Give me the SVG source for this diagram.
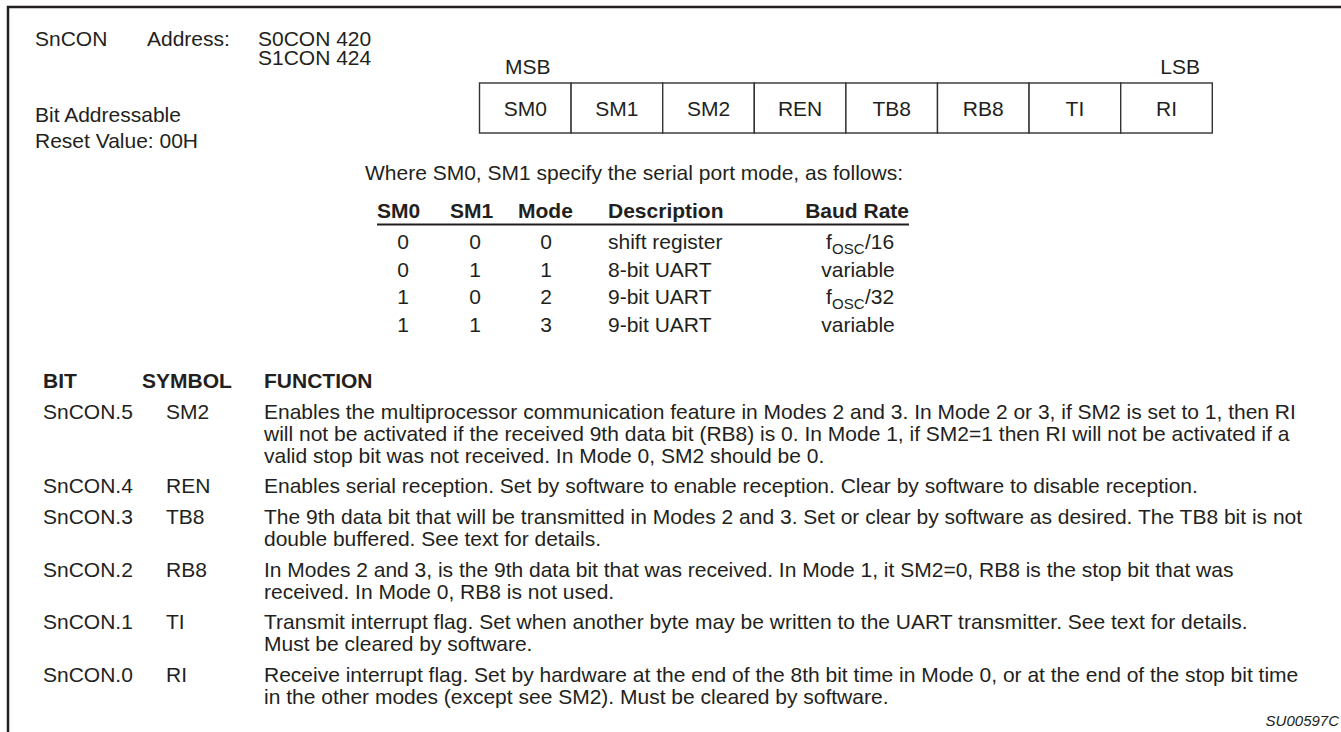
<svg xmlns="http://www.w3.org/2000/svg" width="1341" height="732" viewBox="0 0 1341 732">
<style>
text{font-family:"Liberation Sans",Arial,sans-serif;font-size:21px;fill:#231f20}
.b{font-weight:bold}
.m{text-anchor:middle}
.e{text-anchor:end}
.sub{font-size:15px}
.cell{fill:#fff;stroke:#333;stroke-width:1.4}
.frame{stroke:#231f20;stroke-width:2.5;fill:none}
</style>
<rect width="1341" height="732" fill="#fff"/>
<g id="frame">
<path class="frame" d="M8,732 V7 H1341"/>
</g>
<g id="header">
<text x="35" y="46">SnCON</text>
<text x="147" y="46">Address:</text>
<text x="258" y="46">S0CON 420</text>
<text x="258" y="65">S1CON 424</text>
<text x="35" y="122">Bit Addressable</text>
<text x="35" y="148">Reset Value: 00H</text>
</g>
<g id="register">
<text x="505" y="74">MSB</text>
<text x="1200" y="74" class="e">LSB</text>
<g id="cell-SM0"><rect class="cell" x="479.5" y="83" width="91.6" height="50"/><text x="525.3" y="116" class="m">SM0</text></g>
<g id="cell-SM1"><rect class="cell" x="571.1" y="83" width="91.6" height="50"/><text x="616.9" y="116" class="m">SM1</text></g>
<g id="cell-SM2"><rect class="cell" x="662.7" y="83" width="91.6" height="50"/><text x="708.5" y="116" class="m">SM2</text></g>
<g id="cell-REN"><rect class="cell" x="754.3" y="83" width="91.6" height="50"/><text x="800.1" y="116" class="m">REN</text></g>
<g id="cell-TB8"><rect class="cell" x="845.9" y="83" width="91.6" height="50"/><text x="891.7" y="116" class="m">TB8</text></g>
<g id="cell-RB8"><rect class="cell" x="937.5" y="83" width="91.6" height="50"/><text x="983.3" y="116" class="m">RB8</text></g>
<g id="cell-TI"><rect class="cell" x="1029.1" y="83" width="91.6" height="50"/><text x="1074.9" y="116" class="m">TI</text></g>
<g id="cell-RI"><rect class="cell" x="1120.7" y="83" width="91.6" height="50"/><text x="1166.5" y="116" class="m">RI</text></g>
</g>
<g id="mode-table">
<text x="365" y="180">Where SM0, SM1 specify the serial port mode, as follows:</text>
<text x="377" y="218" class="b">SM0</text>
<text x="450" y="218" class="b">SM1</text>
<text x="518" y="218" class="b">Mode</text>
<text x="608" y="218" class="b">Description</text>
<text x="909" y="218" class="b e">Baud Rate</text>
<line x1="377" y1="224.5" x2="909" y2="224.5" stroke="#231f20" stroke-width="2"/>
<text x="403" y="249" class="m">0</text><text x="475" y="249" class="m">0</text><text x="546" y="249" class="m">0</text><text x="608" y="249">shift register</text>
<text x="826" y="249">f</text><text x="832" y="254" class="sub">OSC</text><text x="865" y="249">/16</text>
<text x="403" y="276.5" class="m">0</text><text x="475" y="276.5" class="m">1</text><text x="546" y="276.5" class="m">1</text><text x="608" y="276.5">8-bit UART</text><text x="858" y="276.5" class="m">variable</text>
<text x="403" y="304" class="m">1</text><text x="475" y="304" class="m">0</text><text x="546" y="304" class="m">2</text><text x="608" y="304">9-bit UART</text>
<text x="826" y="304">f</text><text x="832" y="309" class="sub">OSC</text><text x="865" y="304">/32</text>
<text x="403" y="331.5" class="m">1</text><text x="475" y="331.5" class="m">1</text><text x="546" y="331.5" class="m">3</text><text x="608" y="331.5">9-bit UART</text><text x="858" y="331.5" class="m">variable</text>
</g>
<g id="bit-table">
<text x="43" y="388" class="b">BIT</text>
<text x="142" y="388" class="b">SYMBOL</text>
<text x="264" y="388" class="b">FUNCTION</text>
<text x="43" y="418.7">SnCON.5</text><text x="166" y="418.7">SM2</text>
<text x="264" y="418.7">Enables the multiprocessor communication feature in Modes 2 and 3. In Mode 2 or 3, if SM2 is set to 1, then RI</text>
<text x="264" y="440.7">will not be activated if the received 9th data bit (RB8) is 0. In Mode 1, if SM2=1 then RI will not be activated if a</text>
<text x="264" y="462.7">valid stop bit was not received. In Mode 0, SM2 should be 0.</text>
<text x="43" y="493.3">SnCON.4</text><text x="166" y="493.3">REN</text>
<text x="264" y="493.3">Enables serial reception. Set by software to enable reception. Clear by software to disable reception.</text>
<text x="43" y="524">SnCON.3</text><text x="166" y="524">TB8</text>
<text x="264" y="524">The 9th data bit that will be transmitted in Modes 2 and 3. Set or clear by software as desired. The TB8 bit is not</text>
<text x="264" y="546">double buffered. See text for details.</text>
<text x="43" y="576.7">SnCON.2</text><text x="166" y="576.7">RB8</text>
<text x="264" y="576.7">In Modes 2 and 3, is the 9th data bit that was received. In Mode 1, it SM2=0, RB8 is the stop bit that was</text>
<text x="264" y="598.7">received. In Mode 0, RB8 is not used.</text>
<text x="43" y="629.3">SnCON.1</text><text x="166" y="629.3">TI</text>
<text x="264" y="629.3">Transmit interrupt flag. Set when another byte may be written to the UART transmitter. See text for details.</text>
<text x="264" y="651.3">Must be cleared by software.</text>
<text x="43" y="682">SnCON.0</text><text x="166" y="682">RI</text>
<text x="264" y="682">Receive interrupt flag. Set by hardware at the end of the 8th bit time in Mode 0, or at the end of the stop bit time</text>
<text x="264" y="704">in the other modes (except see SM2). Must be cleared by software.</text>
<text x="1339" y="726" class="e" style="font-style:italic;font-size:15px">SU00597C</text>
</g>
</svg>
